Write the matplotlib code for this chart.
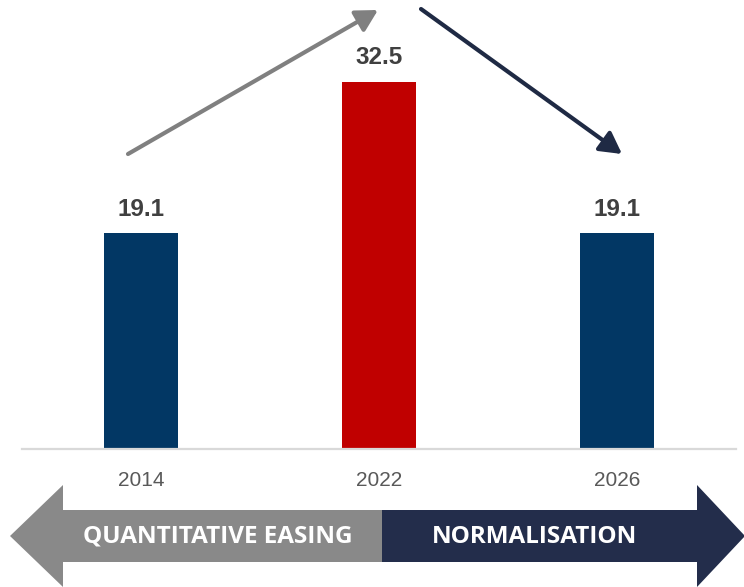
import matplotlib.pyplot as plt
from matplotlib.patches import Polygon, FancyArrowPatch

years = ['2014', '2022', '2026']
values = [19.1, 32.5, 19.1]
bar_colors = ['#023764', '#c00000', '#023764']
phase_left = 'QUANTITATIVE EASING'
phase_right = 'NORMALISATION'

W, H = 744, 587
fig = plt.figure(figsize=(W / 100, H / 100), dpi=100)

# main bar axes: baseline at y=449px, axis line from x=22 to 736
base = 449
px_per_unit = 11.3
ax = fig.add_axes([22 / W, (H - base) / H, 714 / W, base / H])
x = range(len(years))
ax.bar(x, values, width=0.315, color=bar_colors, zorder=2)
ax.set_xlim(-0.5, 2.5)
ax.set_ylim(0, base / px_per_unit)
for i, v in zip(x, values):
    ax.annotate(f'{v:.1f}', (i, v), xytext=(0, 9), textcoords='offset points',
                ha='center', va='bottom', fontsize=17.5, fontweight='bold',
                color='#404040', family='Liberation Sans')
ax.set_xticks(list(x))
ax.set_xticklabels(years, fontsize=15, color='#595959', family='Liberation Sans')
ax.tick_params(axis='x', length=0, pad=16)
ax.set_yticks([])
for s in ['top', 'left', 'right']:
    ax.spines[s].set_visible(False)
ax.spines['bottom'].set_color('#d9d9d9')
ax.spines['bottom'].set_linewidth(1.6)
ax.patch.set_alpha(0)

# overlay in pixel coordinates for the decorative arrows
ov = fig.add_axes([0, 0, 1, 1], zorder=3)
ov.set_xlim(0, W)
ov.set_ylim(H, 0)
ov.axis('off')
ov.patch.set_alpha(0)

grey = '#898989'
navy = '#232d4b'
cy = 536
left_body = [(382, cy - 26), (63, cy - 26), (63, cy - 51), (10, cy),
             (63, cy + 51), (63, cy + 26), (382, cy + 26)]
right_body = [(382, cy - 26), (697, cy - 26), (697, cy - 51), (745, cy),
              (697, cy + 51), (697, cy + 26), (382, cy + 26)]
ov.add_patch(Polygon(left_body, closed=True, facecolor=grey, edgecolor='none'))
ov.add_patch(Polygon(right_body, closed=True, facecolor=navy, edgecolor='none'))
ov.text(218, cy + 1, phase_left, ha='center', va='center', color='white',
        fontsize=17.5, fontweight='bold', family='Open Sans')
ov.text(534, cy + 1, phase_right, ha='center', va='center', color='white',
        fontsize=17.5, fontweight='bold', family='Open Sans')

style = '-|>,head_length=1,head_width=0.55'
ov.add_patch(FancyArrowPatch((128, 154), (378, 10), arrowstyle=style,
                             mutation_scale=13, lw=3, color='#808080',
                             shrinkA=0, shrinkB=0))
ov.add_patch(FancyArrowPatch((421, 9), (622, 154), arrowstyle=style,
                             mutation_scale=13, lw=3, color='#1f2a44',
                             shrinkA=0, shrinkB=0))

fig.savefig('out.png', dpi=100)
